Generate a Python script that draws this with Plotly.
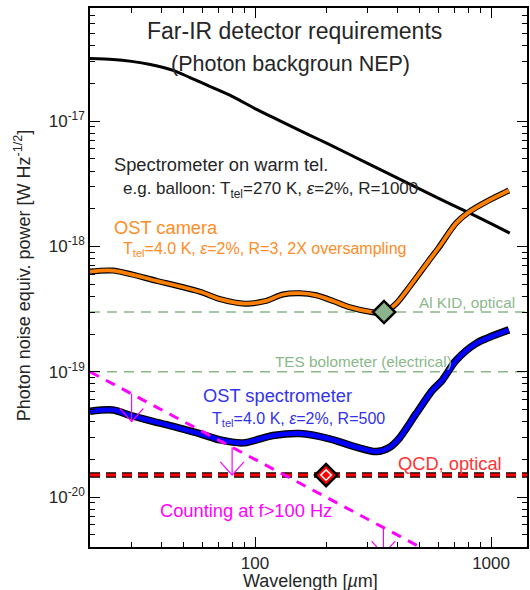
import plotly.graph_objects as go
import numpy as np

# ---------------- data ----------------
warm_lam = [20, 25, 30, 36, 45, 53, 63, 80, 100, 127, 170, 200, 300, 400, 600, 800, 1000, 1200]
warm_nep = [3.17e-17, 3.11e-17, 3.00e-17, 2.83e-17, 2.54e-17, 2.23e-17, 1.93e-17, 1.58e-17,
            1.26e-17, 1.01e-17, 7.75e-18, 6.71e-18, 4.61e-18, 3.53e-18, 2.42e-18, 1.87e-18,
            1.52e-18, 1.28e-18]

cam_lam = [20, 25, 38.6, 58.6, 71.2, 90.7, 110, 131, 155, 182, 217, 251, 314, 350, 397,
           450, 546, 602, 710, 805, 978, 1190]
cam_nep = [6.30e-19, 6.42e-19, 5.30e-19, 4.35e-19, 3.80e-19, 3.50e-19, 3.66e-19, 4.14e-19,
           4.24e-19, 4.08e-19, 3.64e-19, 3.28e-19, 2.99e-19, 2.96e-19, 3.51e-19, 4.73e-19,
           7.73e-19, 9.87e-19, 1.53e-18, 1.88e-18, 2.33e-18, 2.80e-18]

spec_lam = [20, 25, 29.7, 41.7, 58.6, 71.2, 89, 119, 155, 207, 264, 327, 371, 408, 482,
            563, 620, 710, 862, 1190]
spec_nep = [4.85e-20, 4.96e-20, 4.48e-20, 3.80e-20, 3.20e-20, 2.86e-20, 2.71e-20, 3.10e-20,
            3.22e-20, 2.92e-20, 2.53e-20, 2.31e-20, 2.49e-20, 2.94e-20, 4.65e-20, 7.09e-20,
            8.52e-20, 1.23e-19, 1.68e-19, 2.16e-19]

count_lam = [20, 500]
count_nep = [1.0e-19, 4.0e-21]

alkid_nep = 3.0e-19
tes_nep = 1.0e-19
qcd_nep = 1.5e-20
alkid_lam = 352
qcd_lam = 200

arrow_lam = [30, 80, 350]
arrow_top = [6.7e-20, 2.5e-20, 5.7e-21]
arrow_tip = [4.0e-20, 1.5e-20, 3.5e-21]

x_range = [20, 1420]
y_range = [4e-21, 8e-17]
x_ticks = [100, 1000]
x_ticklabels = ["100", "1000"]
y_ticks = [1e-20, 1e-19, 1e-18, 1e-17]
y_ticklabels = ["10<sup>-20</sup>", "10<sup>-19</sup>", "10<sup>-18</sup>", "10<sup>-17</sup>"]

# ---------------- styles ----------------
ORANGE = "#ff8000"
ORANGE_TXT = "#ff8c26"
BLUE = "#0000ff"
BLUE_TXT = "#3333ee"
RED = "#ff0000"
RED_TXT = "#ff3333"
GREEN = "#88b888"
GREEN_TXT = "#8ab88a"
MAGENTA = "#ff00ff"
TXT = "#262626"
FONT = "Liberation Sans, Arial, Helvetica, sans-serif"

fig = go.Figure()
full_x = [x_range[0], x_range[1]]

# green reference lines
for v in (alkid_nep, tes_nep):
    fig.add_trace(go.Scatter(x=full_x, y=[v, v], mode="lines",
                             line=dict(color=GREEN, width=1.6, dash="10px,7px"), hoverinfo="skip"))

# warm telescope
fig.add_trace(go.Scatter(x=warm_lam, y=warm_nep, mode="lines",
                         line=dict(color="black", width=3, shape="spline", smoothing=0.8)))

# OST camera (black outline + orange)
fig.add_trace(go.Scatter(x=cam_lam, y=cam_nep, mode="lines",
                         line=dict(color="black", width=6, shape="spline", smoothing=0.8)))
fig.add_trace(go.Scatter(x=cam_lam, y=cam_nep, mode="lines",
                         line=dict(color=ORANGE, width=3.8, shape="spline", smoothing=0.8)))

# OST spectrometer (black outline + blue)
fig.add_trace(go.Scatter(x=spec_lam, y=spec_nep, mode="lines",
                         line=dict(color="black", width=7.5, shape="spline", smoothing=0.8)))
fig.add_trace(go.Scatter(x=spec_lam, y=spec_nep, mode="lines",
                         line=dict(color=BLUE, width=4.8, shape="spline", smoothing=0.8)))

# QCD line
fig.add_trace(go.Scatter(x=full_x, y=[qcd_nep, qcd_nep], mode="lines",
                         line=dict(color="black", width=5.5, dash="10px,6px")))
fig.add_trace(go.Scatter(x=full_x, y=[qcd_nep, qcd_nep], mode="lines",
                         line=dict(color=RED, width=3, dash="10px,6px")))

# counting line
fig.add_trace(go.Scatter(x=count_lam, y=count_nep, mode="lines",
                         line=dict(color=MAGENTA, width=3, dash="10px,8px")))

# arrows (shaft + V head), head geometry in log-space offsets
hdx, hdy = 0.05, 0.105
ax, ay = [], []
for lam, top, tip in zip(arrow_lam, arrow_top, arrow_tip):
    ax += [lam, lam, None]
    ay += [top, tip, None]
    ax += [lam * 10 ** (-hdx), lam, lam * 10 ** hdx, None]
    ay += [tip * 10 ** hdy, tip, tip * 10 ** hdy, None]
fig.add_trace(go.Scatter(x=ax, y=ay, mode="lines", line=dict(color=MAGENTA, width=1.2),
                         connectgaps=False))

# diamonds
fig.add_trace(go.Scatter(x=[alkid_lam], y=[alkid_nep], mode="markers",
                         marker=dict(symbol="diamond", size=17, color="#8cb48c",
                                     line=dict(color="black", width=2.5))))
fig.add_trace(go.Scatter(x=[qcd_lam], y=[qcd_nep], mode="markers",
                         marker=dict(symbol="diamond", size=17, color=RED,
                                     line=dict(color="black", width=2.5))))
fig.add_trace(go.Scatter(x=[qcd_lam], y=[qcd_nep], mode="markers",
                         marker=dict(symbol="diamond-open", size=8, color="white",
                                     line=dict(color="white", width=1.5))))

# ---------------- axes ----------------
x_minor = [v * 10 ** d for d in (1, 2, 3) for v in range(2, 10) if x_range[0] <= v * 10 ** d <= x_range[1]]
y_minor = [v * 10.0 ** d for d in (-21, -20, -19, -18, -17) for v in range(2, 10)
           if y_range[0] <= v * 10.0 ** d <= y_range[1]]

axis_common = dict(type="log", showgrid=False, zeroline=False, showline=True,
                   linecolor="black", linewidth=1.5, mirror="allticks",
                   ticks="inside", ticklen=10, tickwidth=1.3, tickcolor="black",
                   tickfont=dict(size=17, color=TXT, family=FONT))
fig.update_xaxes(**axis_common, range=[np.log10(x_range[0]), np.log10(x_range[1])],
                 tickmode="array", tickvals=x_ticks, ticktext=x_ticklabels,
                 minor=dict(tickmode="array", tickvals=x_minor, ticks="inside", ticklen=5,
                            tickwidth=1, tickcolor="black", showgrid=False))
fig.update_yaxes(**axis_common, range=[np.log10(y_range[0]), np.log10(y_range[1])],
                 tickmode="array", tickvals=y_ticks, ticktext=y_ticklabels,
                 minor=dict(tickmode="array", tickvals=y_minor, ticks="inside", ticklen=5,
                            tickwidth=1, tickcolor="black", showgrid=False))

W, H = 530, 590
ML, MR, MT, MB = 90, 1, 8, 43


def px(x):
    return (x - ML) / (W - ML - MR)


def py(y):
    return (H - MB - y) / (H - MT - MB)


def txt(text, x, y, size, color, anchor="left", angle=0, pad=1):
    fig.add_annotation(text=text, x=px(x), y=py(y), xref="paper", yref="paper",
                       xanchor=anchor, yanchor="middle", showarrow=False, textangle=angle,
                       borderpad=pad, font=dict(size=size, color=color, family=FONT))


eps = "<i>ε</i>"
txt("Far-IR detector requirements", 295, 31, 23, TXT, "center")
txt("(Photon backgroun NEP)", 291, 64, 21.5, TXT, "center")
txt("Spectrometer on warm tel.", 112, 165, 18.3, TXT)
txt(f"e.g. balloon: T<sub>tel</sub>=270 K, {eps}=2%, R=1000", 121, 190, 17, TXT)
txt("OST camera", 112, 227, 18.3, ORANGE_TXT)
txt(f"T<sub>tel</sub>=4.0 K, {eps}=2%, R=3, 2X oversampling", 121, 249, 16, ORANGE_TXT)
txt("Al KID, optical", 519, 302, 15.3, GREEN_TXT, "right")
txt("TES bolometer (electrical)", 274, 361, 15.3, GREEN_TXT)
txt("OST spectrometer", 202, 395, 18.3, BLUE_TXT)
txt(f"T<sub>tel</sub>=4.0 K, {eps}=2%, R=500", 211, 419, 16, BLUE_TXT)
txt("QCD, optical", 397, 463, 18.3, RED_TXT)
txt("Counting at f>100 Hz", 158, 510, 18.3, MAGENTA)
txt("Wavelength [<i>µ</i>m]", 312, 581, 18, TXT, "center", pad=0)
txt("Photon noise equiv. power [W Hz<sup>-1/2</sup>]", 22, 275, 18, TXT, "center", angle=-90)

fig.update_layout(width=W, height=H, margin=dict(l=ML, r=MR, t=MT, b=MB),
                  plot_bgcolor="white", paper_bgcolor="white", showlegend=False,
                  font=dict(family=FONT, color=TXT))

fig.write_html("out.html", config={"displayModeBar": False},
               post_script="document.body.style.margin='0px';")
